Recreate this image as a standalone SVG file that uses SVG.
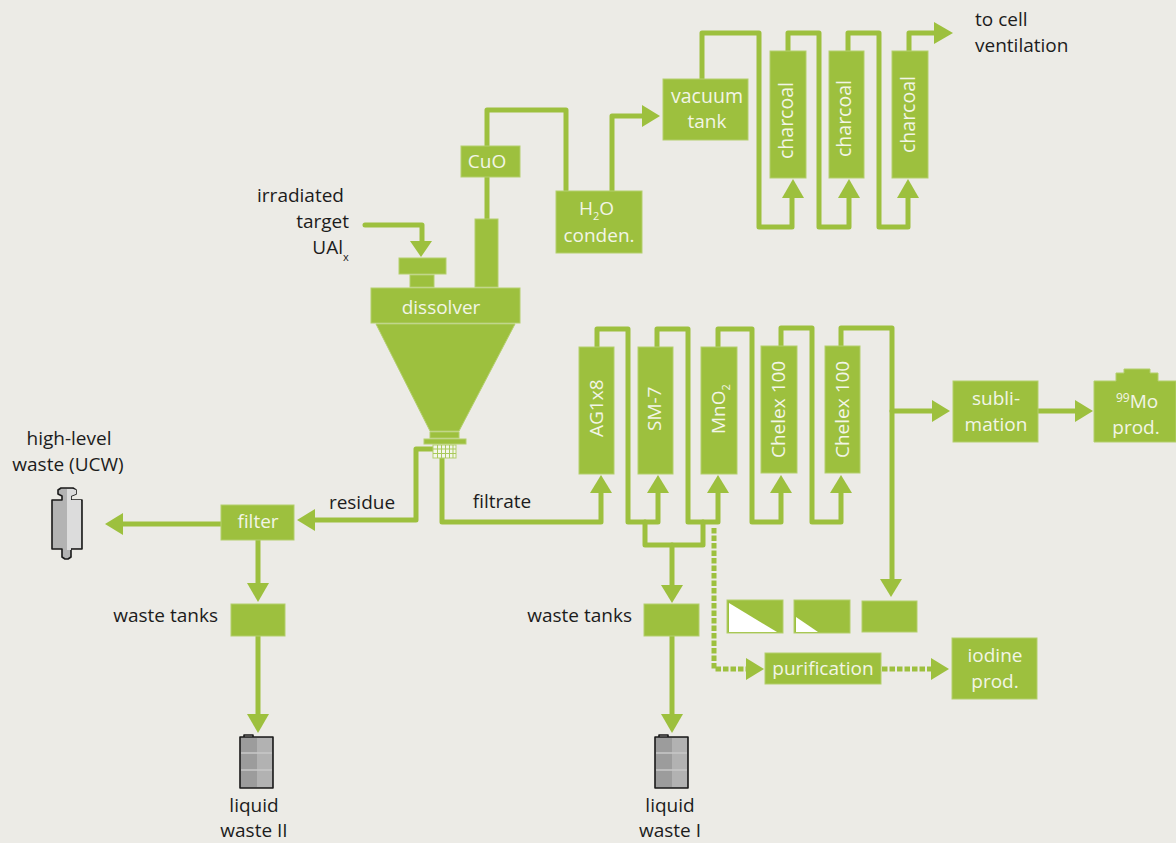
<svg xmlns="http://www.w3.org/2000/svg" width="1176" height="843" viewBox="0 0 1176 843">
<style>
text{font-family:"Open Sans","Noto Sans","Liberation Sans",sans-serif;font-size:19px}
.w{fill:#f2f5e6}
.k{fill:#1c1c1c}
.g{fill:#9dc03e}
.s{fill:#9dc03e;stroke:#b3cf6c;stroke-width:1}
.l{fill:none;stroke:#9dc03e;stroke-width:5;stroke-linejoin:round;stroke-linecap:round}
.d{fill:none;stroke:#9dc03e;stroke-width:5;stroke-dasharray:5.5 2}
.m{font-size:12px}
.sm{font-size:11px}
.c{font-size:19.5px}
.o{stroke:#1a1a1a;stroke-width:1.6;stroke-linejoin:round}
</style>
<rect width="1176" height="843" fill="#ecebe6"/>
<g id="connectors">
<path class="l" d="M702 79V33H759V227H792V195"/>
<path class="l" d="M788 51V33H819V227H849V195"/>
<path class="l" d="M848 51V33H879V227H908V195"/>
<path class="l" d="M909 51V33H936"/>
<polygon class="g" points="793,179 804,198 782,198"/><polygon class="g" points="849,179 860,198 838,198"/><polygon class="g" points="908,179 919,198 897,198"/>
<polygon class="g" points="953,33 934,22 934,44"/>
<path class="l" d="M487 219V177M487 146V110H566V190"/>
<path class="l" d="M612 191V116H644"/>
<polygon class="g" points="660,116 642,105 642,127"/>
<path class="l" d="M365 225H422V243"/>
<polygon class="g" points="421,257 410,241 432,241"/>
<path class="l" d="M433 449H416V520H313"/>
<polygon class="g" points="297,520 315,509 315,531"/>
<path class="l" d="M442 458V522H601V490"/>
<path class="l" d="M221 524H122"/>
<polygon class="g" points="105,524 123,513 123,535"/>
<path class="l" d="M258 540V585"/>
<polygon class="g" points="258,602 247,583 269,583"/>
<path class="l" d="M258 636V716"/>
<polygon class="g" points="258,733 247,714 269,714"/>
<path class="l" d="M597 347V329H628V522H658V490"/>
<path class="l" d="M657 347V329H688V522H718V490"/>
<path class="l" d="M718 347V329H752V522H781V490"/>
<path class="l" d="M781 346V328H812V522H841V490"/>
<path class="l" d="M841 346V328H892V581"/>
<polygon class="g" points="601,475 612,493 590,493"/><polygon class="g" points="658,475 669,493 647,493"/><polygon class="g" points="718,475 729,493 707,493"/><polygon class="g" points="781,475 792,493 770,493"/><polygon class="g" points="841,475 852,493 830,493"/>
<polygon class="g" points="891,597 880,579 902,579"/>
<path class="l" d="M892 411H934"/>
<polygon class="g" points="950,411 932,400 932,422"/>
<path class="l" d="M1038 411H1077"/>
<polygon class="g" points="1093,411 1075,400 1075,422"/>
<path class="l" d="M645 522V545H703V522"/>
<path class="l" d="M672 545V587"/>
<polygon class="g" points="672,603 661,585 683,585"/>
<path class="l" d="M672 636V716"/>
<polygon class="g" points="672,733 661,714 683,714"/>
<path class="d" d="M714 528V669H746"/>
<polygon class="g" points="764,669 746,658 746,680"/>
<path class="d" d="M882 669H931"/>
<polygon class="g" points="949,669 931,658 931,680"/>
</g>
<g id="vacuum-tank"><rect class="s" x="663" y="79" width="85" height="61"/><text class="w" x="707" y="103" text-anchor="middle" style="font-size:19.5px">vacuum</text><text class="w" x="707" y="128" text-anchor="middle">tank</text></g>
<g id="charcoal-1"><rect class="s" x="770" y="51" width="36" height="127"/><text class="w c" transform="translate(793,159) rotate(-90)">charcoal</text></g>
<g id="charcoal-2"><rect class="s" x="829" y="51" width="35" height="127"/><text class="w c" transform="translate(851,157) rotate(-90)">charcoal</text></g>
<g id="charcoal-3"><rect class="s" x="892" y="51" width="36" height="127"/><text class="w c" transform="translate(915,153) rotate(-90)">charcoal</text></g>
<g id="cuo"><rect class="s" x="461" y="146" width="59" height="31"/><text class="w" x="487" y="168" text-anchor="middle">CuO</text></g>
<g id="h2o"><rect class="s" x="556" y="191" width="86" height="62"/><text class="w" x="579" y="215">H<tspan class="sm" dy="5">2</tspan><tspan dy="-5">O</tspan></text><text class="w" x="599" y="242" text-anchor="middle">conden.</text></g>
<g id="dissolver">
<rect class="s" x="399" y="258" width="47" height="16"/>
<rect class="s" x="410" y="275" width="24" height="12"/>
<rect class="s" x="475" y="219" width="23" height="68"/>
<rect class="s" x="371" y="288" width="149" height="35"/>
<polygon class="s" points="376,324 515,324 459,431 430,431"/>
<rect class="s" x="430" y="432" width="29" height="6"/>
<rect class="s" x="424" y="439" width="42" height="5"/>
<rect x="433" y="445" width="23" height="13" fill="#f4f6ea" stroke="#b3cf6c" stroke-width="1"/>
<path d="M437.5 445V458M441.5 445V458M445.5 445V458M449.5 445V458M453 445V458M433 449H456M433 453.5H456" stroke="#a9c95a" stroke-width="1" fill="none"/>
<text class="w" x="441" y="314" text-anchor="middle">dissolver</text>
</g>
<g id="ag1x8"><rect class="s" x="579" y="347" width="35" height="127"/><text class="w" transform="translate(603,437) rotate(-90)">AG1x8</text></g>
<g id="sm-7"><rect class="s" x="638" y="347" width="35" height="127"/><text class="w" transform="translate(661,431) rotate(-90)">SM-7</text></g>
<g id="mno2"><rect class="s" x="701" y="347" width="36" height="127"/><text class="w" transform="translate(725,434) rotate(-90)">MnO<tspan class="sm" dy="5">2</tspan></text></g>
<g id="chelex-1"><rect class="s" x="761" y="346" width="36" height="127"/><text class="w" transform="translate(785,458) rotate(-90)">Chelex 100</text></g>
<g id="chelex-2"><rect class="s" x="825" y="346" width="35" height="127"/><text class="w" transform="translate(849,458) rotate(-90)">Chelex 100</text></g>
<g id="sublimation"><rect class="s" x="953" y="381" width="85" height="61"/><text class="w" x="996" y="405" text-anchor="middle">subli-</text><text class="w" x="996" y="431" text-anchor="middle">mation</text></g>
<g id="mo-prod"><path class="s" d="M1094 381H1116V373H1124V369H1150V373H1158V381H1176V442H1094Z"/><text class="w" x="1116" y="408"><tspan class="m" dy="-6">99</tspan><tspan dy="6">Mo</tspan></text><text class="w" x="1136" y="434" text-anchor="middle">prod.</text></g>
<g id="filter"><rect class="s" x="221" y="505" width="73" height="35"/><text class="w" x="258" y="528" text-anchor="middle">filter</text></g>
<g id="waste-tank-2"><rect class="s" x="231" y="604" width="54" height="32"/></g>
<g id="waste-tank-1"><rect class="s" x="644" y="604" width="55" height="32"/></g>
<g id="fraction-1"><rect class="s" x="727" y="600" width="56" height="33"/><polygon points="729,603 729,632 777,632" fill="#fff"/></g>
<g id="fraction-2"><rect class="s" x="794" y="600" width="56" height="33"/><polygon points="796,617 796,632 818,632" fill="#fff"/></g>
<g id="fraction-3"><rect class="s" x="862" y="601" width="55" height="31"/></g>
<g id="purification"><rect class="s" x="765" y="653" width="116" height="31"/><text class="w" x="823" y="675" text-anchor="middle">purification</text></g>
<g id="iodine-prod"><rect class="s" x="952" y="638" width="85" height="61"/><text class="w" x="995" y="662" text-anchor="middle">iodine</text><text class="w" x="995" y="688" text-anchor="middle">prod.</text></g>
<g id="ucw-container">
<path d="M52 500H62V496L58 494V490L61 488H73L76 490V494L71 496V500H82V549H71V552L71 557 68 559H65L62 557V549H52Z" fill="#b3b3b3" class="o"/>
<path d="M67 489H73L76 490V494L71 496V500H81V548H71V550H67Z" fill="#dcdcdc"/>
</g>
<g id="drum-2">
<rect x="240" y="737" width="33" height="51" fill="#9c9c9c" class="o"/><rect x="257" y="738" width="15" height="49" fill="#b2b2b2"/>
<path d="M241 753H272M241 770H272" stroke="#c8c8c8" stroke-width="1.5"/><path d="M244 737V735H253V737" fill="none" class="o"/>
</g>
<g id="drum-1">
<rect x="655" y="737" width="33" height="51" fill="#9c9c9c" class="o"/><rect x="672" y="738" width="15" height="49" fill="#b2b2b2"/>
<path d="M656 753H687M656 770H687" stroke="#c8c8c8" stroke-width="1.5"/><path d="M659 737V735H668V737" fill="none" class="o"/>
</g>
<g id="labels">
<text class="k" x="975" y="26">to cell</text><text class="k" x="975" y="52">ventilation</text>
<text class="k" x="344" y="202" text-anchor="end">irradiated</text><text class="k" x="349" y="228" text-anchor="end">target</text><text class="k" x="343" y="254" text-anchor="end">UAl</text><text class="k sm" x="343" y="261">x</text>
<text class="k" x="69" y="445" text-anchor="middle">high-level</text><text class="k" x="68" y="471" text-anchor="middle">waste (UCW)</text>
<text class="k" x="362" y="509" text-anchor="middle">residue</text><text class="k" x="502" y="508" text-anchor="middle">filtrate</text>
<text class="k" x="218" y="622" text-anchor="end">waste tanks</text><text class="k" x="632" y="622" text-anchor="end">waste tanks</text>
<text class="k" x="254" y="812" text-anchor="middle">liquid</text><text class="k" x="254" y="837" text-anchor="middle">waste II</text>
<text class="k" x="670" y="812" text-anchor="middle">liquid</text><text class="k" x="670" y="837" text-anchor="middle">waste I</text>
</g>
</svg>
